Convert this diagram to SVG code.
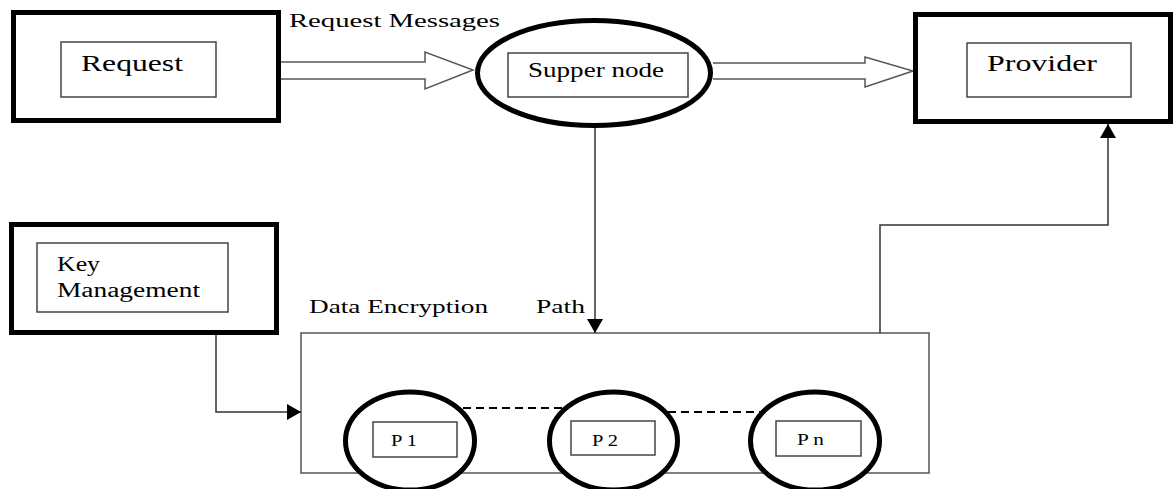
<svg xmlns="http://www.w3.org/2000/svg" width="1176" height="489" viewBox="0 0 1176 489">
<defs>
<style>
.outer{fill:#fff;stroke:#000;stroke-width:5}
.inner{fill:#fff;stroke:#444;stroke-width:1.5}
.ell{fill:#fff;stroke:#000;stroke-width:5}
.box{fill:#fff;stroke:#555;stroke-width:1.5}
.t{font-family:"Liberation Serif","Times New Roman",serif;fill:#000}
.conn{fill:none;stroke:#333;stroke-width:1.5}
.hollow{fill:#fff;stroke:#555;stroke-width:1.5}
.dash{fill:none;stroke:#000;stroke-width:2;stroke-dasharray:8 5}
</style>
<marker id="ah" markerUnits="userSpaceOnUse" markerWidth="14" markerHeight="16" viewBox="0 0 14 16" refX="14" refY="8" orient="auto">
<path d="M0,0 L14,8 L0,16 z" fill="#000"/>
</marker>
</defs>
<rect width="1176" height="489" fill="#fff"/>

<g id="data-encryption">
<rect class="box" x="301" y="333" width="628" height="140"/>
</g>

<g id="connectors">
<path class="hollow" d="M277,62 H425 V52 L473,70 L425,89 V79 H277"/>
<path class="hollow" d="M713,63 H865 V57 L913,71 L865,87 V79 H713"/>
<path class="conn" d="M595,128 V333" marker-end="url(#ah)"/>
<path class="conn" d="M880,333 V225 H1108 V124" marker-end="url(#ah)"/>
<path class="conn" d="M216,335 V412 H301" marker-end="url(#ah)"/>
<path class="dash" d="M463,408 H570"/>
<path class="dash" d="M668,412 H772"/>
</g>

<g id="request">
<rect class="outer" x="13.5" y="12.5" width="265" height="108"/>
<rect class="inner" x="61" y="42" width="155" height="55"/>
<text class="t" x="81" y="71" font-size="24" textLength="102" lengthAdjust="spacingAndGlyphs">Request</text>
</g>

<text class="t" x="289" y="27" font-size="19" textLength="211" lengthAdjust="spacingAndGlyphs">Request Messages</text>

<g id="supper-node">
<ellipse class="ell" cx="594" cy="73" rx="116.5" ry="52.5"/>
<rect class="inner" x="508" y="53" width="180" height="44"/>
<text class="t" x="528" y="77" font-size="22" textLength="136" lengthAdjust="spacingAndGlyphs">Supper node</text>
</g>

<g id="provider">
<rect class="outer" x="915.5" y="14.5" width="255" height="107"/>
<rect class="inner" x="967" y="43" width="164" height="54"/>
<text class="t" x="987" y="71" font-size="24" textLength="110" lengthAdjust="spacingAndGlyphs">Provider</text>
</g>

<g id="key-management">
<rect class="outer" x="11.5" y="224.5" width="265" height="108"/>
<rect class="inner" x="37" y="243" width="191" height="69"/>
<text class="t" x="57" y="271" font-size="20" textLength="43" lengthAdjust="spacingAndGlyphs">Key</text>
<text class="t" x="57" y="297" font-size="20" textLength="143" lengthAdjust="spacingAndGlyphs">Management</text>
</g>

<text class="t" x="309" y="313" font-size="19" textLength="179" lengthAdjust="spacingAndGlyphs">Data Encryption</text>
<text class="t" x="536" y="313" font-size="19" textLength="49" lengthAdjust="spacingAndGlyphs">Path</text>

<g id="p1">
<ellipse class="ell" cx="410" cy="441" rx="64.5" ry="49"/>
<rect class="inner" x="373" y="422" width="84" height="35"/>
<text class="t" x="391" y="446" font-size="16" textLength="26" lengthAdjust="spacingAndGlyphs">P 1</text>
</g>

<g id="p2">
<ellipse class="ell" cx="613.5" cy="441" rx="64" ry="49"/>
<rect class="inner" x="571" y="421" width="84" height="34"/>
<text class="t" x="592" y="446" font-size="16" textLength="26" lengthAdjust="spacingAndGlyphs">P 2</text>
</g>

<g id="pn">
<ellipse class="ell" cx="815" cy="441" rx="64.5" ry="49"/>
<rect class="inner" x="776" y="421" width="85" height="35"/>
<text class="t" x="797" y="445" font-size="16" textLength="27" lengthAdjust="spacingAndGlyphs">P n</text>
</g>
</svg>
